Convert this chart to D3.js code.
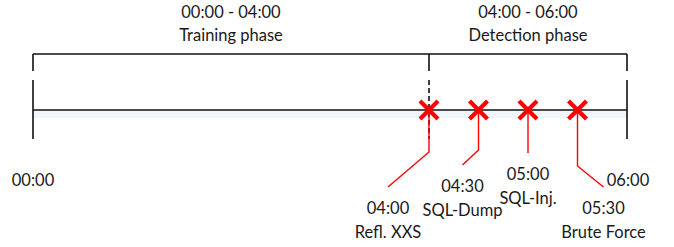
<!DOCTYPE html>
<html>
<head>
<meta charset="utf-8">
<script src="https://cdn.jsdelivr.net/npm/d3@7/dist/d3.min.js"></script>
<style>
  body { margin: 0; background: #fff; }
  svg text { font-family: Lato, "Open Sans", sans-serif; font-size: 16.5px; fill: #1a1a1a; }
</style>
</head>
<body>
<svg id="chart" width="674" height="247"></svg>
<script>
// timeline data (hours since 00:00)
var phaseNames  = ["Training phase", "Detection phase"];
var phaseStart  = [0, 4];
var phaseEnd    = [4, 6];
var endTicks    = [0, 6];
var endLabels   = ["00:00", "06:00"];
var eventTimes  = [4, 4.5, 5, 5.5];
var eventNames  = ["Refl. XXS", "SQL-Dump", "SQL-Inj.", "Brute Force"];

// callout layout for each event: vertical drop, then diagonal offset (px)
var calloutDrop = [42, 40, 43, 56];
var calloutDx   = [-41, -16, 0, 26];
var calloutDy   = [35, 15, 0, 21];

function hhmm(h){
    var hh = Math.floor(h), mm = Math.round((h - hh) * 60);
    return d3.format("02")(hh) + ":" + d3.format("02")(mm);
}

var svg = d3.select("#chart");
var x = d3.scaleLinear().domain([0, 6]).range([33, 627]);
var lineY = 110, bracketY = 54;

// faint shadow under the axis
svg.append("rect")
    .attr("x", x(0)).attr("y", lineY + 1)
    .attr("width", x(6) - x(0)).attr("height", 7)
    .attr("fill", "#f1f5fc");

// phase bracket
svg.append("line")
    .attr("x1", x(0)).attr("x2", x(6))
    .attr("y1", bracketY).attr("y2", bracketY)
    .attr("stroke", "#111").attr("stroke-width", 1.3);

svg.selectAll(".btick").data(phaseStart.concat([6])).enter()
    .append("line").attr("class", "btick")
    .attr("x1", function(d){ return x(d); }).attr("x2", function(d){ return x(d); })
    .attr("y1", bracketY).attr("y2", 71)
    .attr("stroke", "#111").attr("stroke-width", 1.6);

// end ticks on the axis
svg.selectAll(".etick").data(endTicks).enter()
    .append("line").attr("class", "etick")
    .attr("x1", function(d){ return x(d); }).attr("x2", function(d){ return x(d); })
    .attr("y1", 80).attr("y2", 139)
    .attr("stroke", "#111").attr("stroke-width", 1.6);

// dashed phase boundary
svg.append("line")
    .attr("x1", x(phaseEnd[0])).attr("x2", x(phaseEnd[0]))
    .attr("y1", 80).attr("y2", 139)
    .attr("stroke", "#111").attr("stroke-width", 1.6)
    .attr("stroke-dasharray", "5,3");

// axis line
svg.append("line")
    .attr("x1", x(0)).attr("x2", x(6))
    .attr("y1", lineY).attr("y2", lineY)
    .attr("stroke", "#111").attr("stroke-width", 1.3);

// phase headings
phaseNames.forEach(function(name, i){
    var cx = (x(phaseStart[i]) + x(phaseEnd[i])) / 2;
    svg.append("text").attr("x", cx).attr("y", 18).attr("text-anchor", "middle")
        .text(hhmm(phaseStart[i]) + " - " + hhmm(phaseEnd[i]));
    svg.append("text").attr("x", cx).attr("y", 41).attr("text-anchor", "middle")
        .text(name);
});

// end labels
svg.append("text").attr("x", x(endTicks[0])).attr("y", 186).attr("text-anchor", "middle").text(endLabels[0]);
svg.append("text").attr("x", x(endTicks[1]) + 1).attr("y", 186).attr("text-anchor", "middle").text(endLabels[1]);

// event callouts
var ev = svg.selectAll(".event").data(eventTimes).enter().append("g").attr("class", "event");

ev.append("polyline")
    .attr("points", function(d, i){
        var px = x(d), y1 = lineY + calloutDrop[i];
        return [[px, lineY], [px, y1], [px + calloutDx[i], y1 + calloutDy[i]]].join(" ");
    })
    .attr("fill", "none").attr("stroke", "#f00").attr("stroke-width", 1.4);

var s = 9;
ev.append("path")
    .attr("d", function(d){
        var px = x(d);
        return "M" + (px - s) + "," + (lineY - s) + "L" + (px + s) + "," + (lineY + s) +
               "M" + (px + s) + "," + (lineY - s) + "L" + (px - s) + "," + (lineY + s);
    })
    .attr("stroke", "#f00").attr("stroke-width", 4.2).attr("fill", "none");

ev.each(function(d, i){
    var g = d3.select(this);
    var lx = x(d) + calloutDx[i];
    var ly = lineY + calloutDrop[i] + calloutDy[i];
    g.append("text").attr("x", lx).attr("y", ly + 27).attr("text-anchor", "middle").text(hhmm(d));
    g.append("text").attr("x", lx).attr("y", ly + 51).attr("text-anchor", "middle").text(eventNames[i]);
});
</script>
</body>
</html>
